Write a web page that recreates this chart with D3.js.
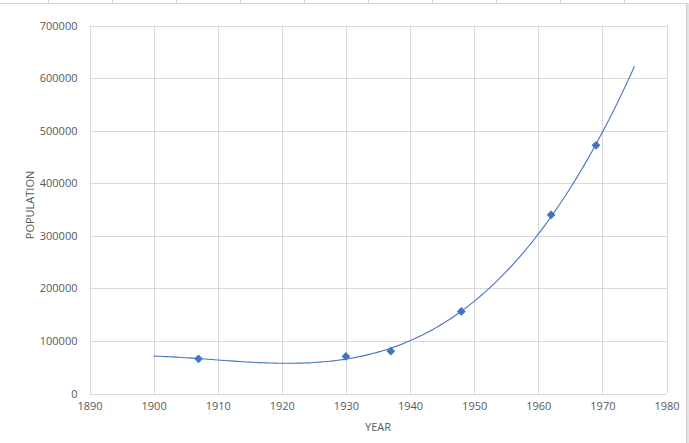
<!DOCTYPE html>
<html>
<head>
<meta charset="utf-8">
<script src="https://cdn.jsdelivr.net/npm/d3@7"></script>
<style>
  html, body { margin: 0; padding: 0; background: #fff; }
  svg { display: block; }
  text { font-family: "Open Sans", "Liberation Sans", sans-serif; fill: #595959; }
</style>
</head>
<body>
<svg id="chart" width="689" height="443"></svg>
<script>
// ---- data ----
const years = [1907, 1930, 1937, 1948, 1962, 1969];
const population = [66000, 70500, 80500, 156000, 340000, 472000];
const xTicks = [1890, 1900, 1910, 1920, 1930, 1940, 1950, 1960, 1970, 1980];
const yTicks = [0, 100000, 200000, 300000, 400000, 500000, 600000, 700000];
const trendRange = [1900, 1975];
const xTitle = "YEAR";
const yTitle = "POPULATION";

// ---- layout ----
const svg = d3.select("#chart");
const W = 689, H = 443;
const plot = { left: 89.5, right: 666.5, top: 25.5, bottom: 393.5 };

const x = d3.scaleLinear().domain([1890, 1980]).range([plot.left, plot.right]);
const y = d3.scaleLinear().domain([0, 700000]).range([plot.bottom, plot.top]);

// spreadsheet background strip / chart border
const bg = svg.append("g");
bg.append("line").attr("x1", 0).attr("x2", 687).attr("y1", 3.5).attr("y2", 3.5)
  .attr("stroke", "#d4d4d4");
[48, 112, 176, 240, 304, 368, 432, 496, 560, 624].forEach(px => {
  bg.append("line").attr("x1", px + 0.5).attr("x2", px + 0.5).attr("y1", 0).attr("y2", 3)
    .attr("stroke", "#d4d4d4");
});
bg.append("rect").attr("x", 686).attr("y", 3).attr("width", 3).attr("height", H - 3)
  .attr("fill", "#e4e4e4");
bg.append("line").attr("x1", 686.5).attr("x2", 686.5).attr("y1", 3).attr("y2", H)
  .attr("stroke", "#d0d0d0");

// gridlines
const grid = svg.append("g");
grid.selectAll("line.h").data(yTicks).join("line")
  .attr("x1", plot.left).attr("x2", plot.right)
  .attr("y1", d => Math.round(y(d)) + 0.5).attr("y2", d => Math.round(y(d)) + 0.5)
  .attr("stroke", "#d9d9d9").attr("stroke-width", 1);
grid.selectAll("line.v").data(xTicks).join("line")
  .attr("y1", plot.top).attr("y2", plot.bottom)
  .attr("x1", d => Math.round(x(d)) + 0.5).attr("x2", d => Math.round(x(d)) + 0.5)
  .attr("stroke", "#d9d9d9").attr("stroke-width", 1);

// axes (labels only, Excel style)
const xAxis = d3.axisBottom(x).tickValues(xTicks).tickSize(0).tickPadding(9).tickFormat(d3.format("d"));
const gx = svg.append("g").attr("transform", `translate(0,${plot.bottom})`).call(xAxis);
gx.select(".domain").remove();
gx.selectAll("text").style("font-size", "11px").style("fill", "#595959")
  .style("font-family", "'Open Sans', 'Liberation Sans', sans-serif");

const yAxis = d3.axisLeft(y).tickValues(yTicks).tickSize(0).tickPadding(12).tickFormat(d3.format("d"));
const gy = svg.append("g").attr("transform", `translate(${plot.left},0)`).call(yAxis);
gy.select(".domain").remove();
gy.selectAll("text").style("font-size", "11px").style("fill", "#595959")
  .style("font-family", "'Open Sans', 'Liberation Sans', sans-serif");

// axis titles
svg.append("text").attr("x", (plot.left + plot.right) / 2).attr("y", 431)
  .attr("text-anchor", "middle").style("font-size", "11px").text(xTitle);
svg.append("text").attr("transform", `translate(34,205) rotate(-90)`)
  .attr("text-anchor", "middle").style("font-size", "11px").text(yTitle);

// ---- cubic least-squares trendline (as Excel's polynomial trendline) ----
function polyFit(xs, ys, order) {
  const x0 = 1940;
  const n = order + 1;
  const A = Array.from({length: n}, () => new Array(n + 1).fill(0));
  xs.forEach((xv, k) => {
    const t = (xv - x0) / 10;
    for (let i = 0; i < n; i++) {
      for (let j = 0; j < n; j++) A[i][j] += Math.pow(t, i + j);
      A[i][n] += ys[k] * Math.pow(t, i);
    }
  });
  for (let i = 0; i < n; i++) {
    let p = i;
    for (let r = i + 1; r < n; r++) if (Math.abs(A[r][i]) > Math.abs(A[p][i])) p = r;
    [A[i], A[p]] = [A[p], A[i]];
    for (let r = 0; r < n; r++) {
      if (r === i) continue;
      const f = A[r][i] / A[i][i];
      for (let c = i; c <= n; c++) A[r][c] -= f * A[i][c];
    }
  }
  const coef = A.map((row, i) => row[n] / row[i]);
  return xv => { const t = (xv - x0) / 10; return coef.reduce((s, c, i) => s + c * Math.pow(t, i), 0); };
}
const fit = polyFit(years, population, 3);
const trendYears = d3.range(trendRange[0], trendRange[1] + 0.001, 0.5);
const line = d3.line().x(d => x(d)).y(d => y(fit(d))).curve(d3.curveLinear);
svg.append("path").datum(trendYears).attr("d", line)
  .attr("fill", "none").attr("stroke", "#4472c4").attr("stroke-width", 1.1);

// markers (diamonds)
svg.append("g").selectAll("path").data(years.map((yr, i) => [yr, population[i]])).join("path")
  .attr("d", d3.symbol().type(d3.symbolSquare).size(27))
  .attr("transform", d => `translate(${x(d[0])},${y(d[1])}) rotate(45)`)
  .attr("fill", "#4472c4").attr("stroke", "#4472c4").attr("stroke-width", 1);
</script>
</body>
</html>
